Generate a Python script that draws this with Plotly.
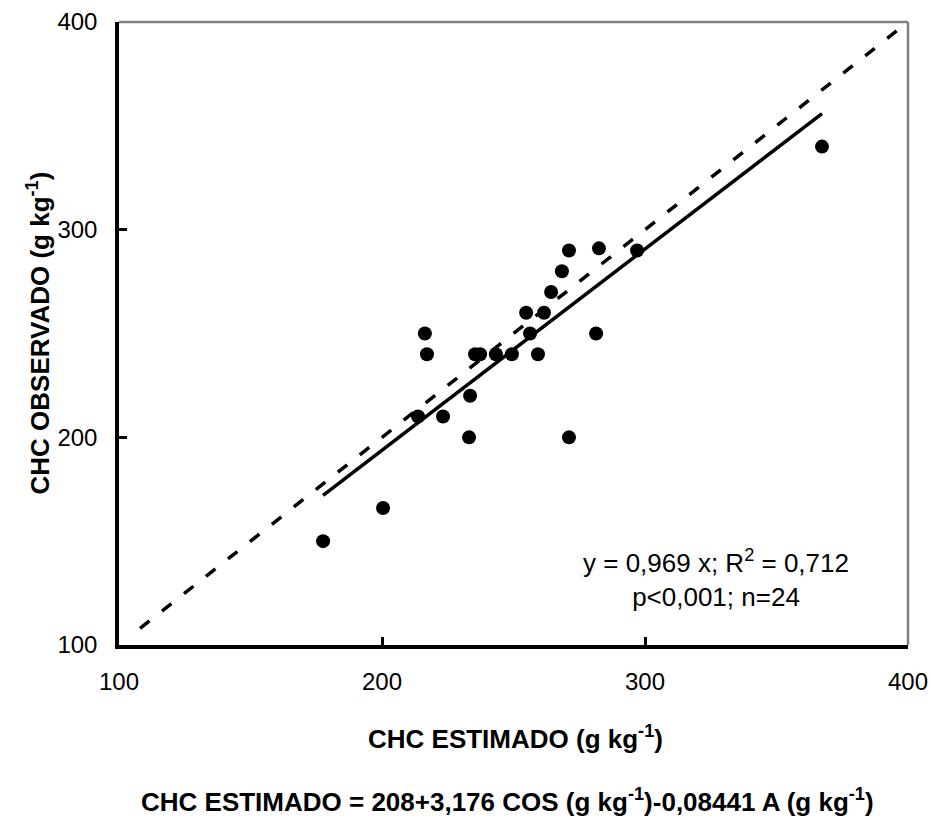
import plotly.graph_objects as go

# Data
chc_estimado = [177.6, 200.4, 213.7, 223.2, 233.5, 233.1, 216.3, 217.1, 235.4, 237.3,
                243.3, 249.4, 259.3, 254.8, 256.3, 261.6, 264.3, 268.4, 271.1, 282.5,
                281.4, 271.1, 297.0, 367.3]
chc_observado = [150, 166, 210, 210, 220, 200, 250, 240, 240, 240,
                 240, 240, 240, 260, 250, 260, 270, 280, 290, 291,
                 250, 200, 290, 340]
slope = 0.969
fit_x = [min(chc_estimado), max(chc_estimado)]
fit_y = [slope * v for v in fit_x]
one_to_one = [108, 396]
tick_vals = [100, 200, 300, 400]

FONT = "Liberation Sans, Arial, sans-serif"

fig = go.Figure()
fig.add_trace(go.Scatter(x=one_to_one, y=one_to_one, mode="lines",
                         line=dict(color="black", width=3.5, dash="12px,16px"),
                         showlegend=False, hoverinfo="skip"))
fig.add_trace(go.Scatter(x=fit_x, y=fit_y, mode="lines",
                         line=dict(color="black", width=3.5),
                         showlegend=False, hoverinfo="skip"))
fig.add_trace(go.Scatter(x=chc_estimado, y=chc_observado, mode="markers",
                         marker=dict(color="black", size=14),
                         showlegend=False))

axis_common = dict(range=[100, 400], tickvals=tick_vals, showgrid=False, zeroline=False,
                   showline=True, linecolor="black", linewidth=3.5, automargin=False,
                   ticks="inside", ticklen=8, tickwidth=2.5, tickcolor="black",
                   tickfont=dict(family=FONT, size=24, color="black"))

fig.update_layout(
    width=931, height=820,
    margin=dict(l=119, r=23, t=22, b=175),
    paper_bgcolor="white", plot_bgcolor="white",
    xaxis=dict(**axis_common, ticklabelstandoff=12),
    yaxis=dict(**axis_common, ticklabelstandoff=13),
    shapes=[
        dict(type="line", xref="paper", yref="paper", x0=0, x1=1, y0=1, y1=1,
             line=dict(color="#808080", width=2.5)),
        dict(type="line", xref="paper", yref="paper", x0=1, x1=1, y0=0, y1=1,
             line=dict(color="#808080", width=2.5)),
    ],
    annotations=[
        dict(text="CHC ESTIMADO (g kg<sup>-1</sup>)", xref="paper", yref="paper",
             x=(515 - 119) / 789, y=(645 - 737) / 623, showarrow=False,
             xanchor="center", yanchor="middle",
             font=dict(family=FONT, size=26, color="black", weight="bold")),
        dict(text="CHC OBSERVADO (g kg<sup>-1</sup>)", xref="paper", yref="paper",
             x=(39 - 119) / 789, y=0.5, showarrow=False, textangle=-90,
             xanchor="center", yanchor="middle",
             font=dict(family=FONT, size=26, color="black", weight="bold")),
        dict(text="CHC ESTIMADO = 208+3,176 COS (g kg<sup>-1</sup>)-0,08441 A (g kg<sup>-1</sup>)",
             xref="paper", yref="paper", x=(507 - 119) / 789, y=(645 - 800) / 623,
             showarrow=False, xanchor="center", yanchor="middle",
             font=dict(family=FONT, size=26, color="black", weight="bold")),
        dict(text="y = 0,969 x; R<sup>2</sup> = 0,712<br>p<0,001; n=24",
             xref="paper", yref="paper", x=(716 - 119) / 789, y=(645 - 578) / 623,
             showarrow=False, xanchor="center", yanchor="middle", align="center",
             font=dict(family=FONT, size=26, color="black")),
    ],
)

fig.write_html("out.html", config={"displayModeBar": False},
               post_script="document.body.style.margin='0';")
